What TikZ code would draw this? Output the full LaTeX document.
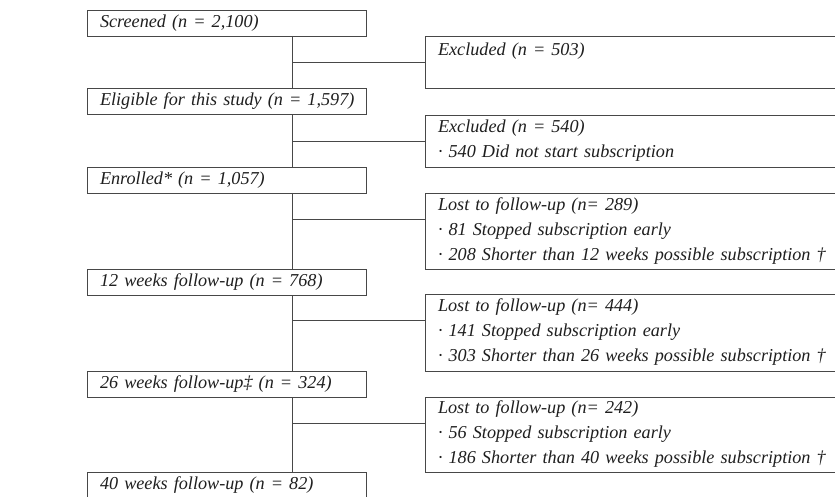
\documentclass[tikz,border=0pt]{standalone}
\usepackage{fontspec}
\setmainfont{Liberation Serif}
\usetikzlibrary{calc}
\begin{document}
\begin{tikzpicture}[x=1pt,y=-1pt,
  box/.style={draw=black!72, line width=0.9pt, fill=white, inner xsep=13pt, inner ysep=0pt,
    outer sep=0pt, anchor=north west, align=left,
    font=\fontsize{18.2}{25}\selectfont\itshape, text=black!88},
  leftbox/.style={box, text width=253pt, minimum height=26pt},
  rightbox/.style={box, text width=424pt, minimum height=#1},
  link/.style={draw=black!72, line width=0.9pt}]
\useasboundingbox (0,0) rectangle (835,497);
\clip (0,0) rectangle (835,497);

% left column
\node[leftbox] (screened) at (87,10) {\mbox{Screened (n = 2,100)}};
\node[leftbox] (eligible) at (87,88.5) {\mbox{Eligible for this study (n = 1,597)}};
\node[leftbox] (enrolled) at (87,167) {\mbox{Enrolled* (n = 1,057)}};
\node[leftbox] (w12) at (87,269) {\mbox{12 weeks follow-up (n = 768)}};
\node[leftbox] (w26) at (87,371) {\mbox{26 weeks follow-up‡ (n = 324)}};
\node[leftbox] (w40) at (87,472) {\mbox{40 weeks follow-up (n = 82)}};

% right column
\node[rightbox=52pt] (ex1) at (425,36) {Excluded (n = 503)\\\mbox{}};
\node[rightbox=52pt] (ex2) at (425,115) {Excluded (n = 540)\\· 540 Did not start subscription};
\node[rightbox=76pt] (lost1) at (425,193) {Lost to follow-up (n= 289)\\· 81 Stopped subscription early\\\mbox{· 208 Shorter than 12 weeks possible subscription †}};
\node[rightbox=77pt] (lost2) at (425,294) {Lost to follow-up (n= 444)\\· 141 Stopped subscription early\\\mbox{· 303 Shorter than 26 weeks possible subscription †}};
\node[rightbox=75pt] (lost3) at (425,397) {Lost to follow-up (n= 242)\\· 56 Stopped subscription early\\\mbox{· 186 Shorter than 40 weeks possible subscription †}};

% spine
\coordinate (sp) at (292,0);
\draw[link] (screened.south -| sp) -- (eligible.north -| sp);
\draw[link] (eligible.south -| sp) -- (enrolled.north -| sp);
\draw[link] (enrolled.south -| sp) -- (w12.north -| sp);
\draw[link] (w12.south -| sp) -- (w26.north -| sp);
\draw[link] (w26.south -| sp) -- (w40.north -| sp);

% branches
\coordinate (b1) at ([yshift=-26pt]ex1.north west);
\coordinate (b2) at ([yshift=-26pt]ex2.north west);
\coordinate (b3) at ([yshift=-26pt]lost1.north west);
\coordinate (b4) at ([yshift=-26pt]lost2.north west);
\coordinate (b5) at ([yshift=-26pt]lost3.north west);
\draw[link] (b1 -| sp) -- (b1);
\draw[link] (b2 -| sp) -- (b2);
\draw[link] (b3 -| sp) -- (b3);
\draw[link] (b4 -| sp) -- (b4);
\draw[link] (b5 -| sp) -- (b5);
\end{tikzpicture}
\end{document}
